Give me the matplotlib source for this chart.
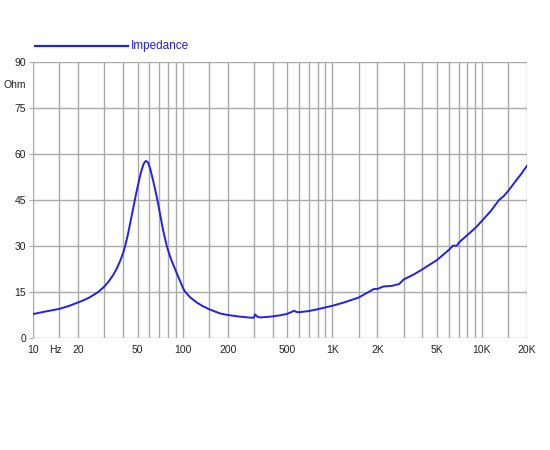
import matplotlib
matplotlib.use("Agg")
import matplotlib.pyplot as plt
import matplotlib.transforms as mtransforms

plt.rcParams['font.family'] = ['Liberation Sans', 'DejaVu Sans']

# impedance curve (Hz, Ohm)
freq = [10, 12, 15, 17.5, 20, 22, 24, 27.3, 30, 32, 34.4, 36.5, 38.2, 40,
        41.3, 43, 44.5, 46.5, 48.1, 50, 51.9, 53.5, 55, 56.6, 58, 59, 61,
        63.7, 65.5, 67.8, 71, 74, 78.3, 82.4, 86, 91.2, 100, 103, 112, 124,
        135, 150, 178, 200, 242, 290, 298, 305, 314, 329, 385, 450, 500, 530,
        556, 575, 600, 700, 800, 1000, 1200, 1500, 1900, 2000, 2200, 2500,
        2800, 3000, 3500, 4000, 5000, 6000, 6400, 6800, 7000, 8000, 9000,
        10000, 11500, 13000, 14000, 15000, 17000, 18500, 20000]
ohm = [7.8, 8.6, 9.5, 10.5, 11.6, 12.4, 13.3, 15.0, 16.8, 18.4, 20.6, 22.9,
       25.1, 27.7, 30.0, 33.6, 37.2, 41.8, 45.4, 49.3, 52.8, 55.2, 56.9,
       57.7, 57.5, 57.0, 54.8, 51.0, 48.4, 45.0, 39.8, 35.2, 30.0, 26.6,
       24.2, 21.2, 16.6, 15.3, 13.3, 11.6, 10.5, 9.4, 8.0, 7.5, 6.96, 6.6,
       6.6, 7.7, 7.0, 6.7, 6.96, 7.4, 7.9, 8.4, 8.9, 8.5, 8.4, 8.8, 9.4,
       10.5, 11.6, 13.2, 16.0, 16.0, 16.8, 17.0, 17.6, 19.1, 20.7, 22.4,
       25.4, 28.7, 30.1, 30.1, 31.1, 33.6, 35.8, 38.2, 41.5, 45.0, 46.3,
       48.0, 51.5, 53.8, 56.2]

grid_f = [10, 15, 20, 30, 40, 50, 60, 70, 80, 90, 100, 150, 200, 300, 400, 500,
          600, 700, 800, 900, 1000, 1500, 2000, 3000, 4000, 5000, 6000, 7000,
          8000, 9000, 10000, 15000, 20000]
xtick_f = [10, 20, 50, 100, 200, 500, 1000, 2000, 5000, 10000, 20000]
xtick_lbl = ['10', '20', '50', '100', '200', '500', '1K', '2K', '5K', '10K', '20K']
ytick_v = [0, 15, 30, 45, 60, 75, 90]

line_col = '#2020f0'
grid_col = '#aaaaaa'
text_col = '#222222'

fig = plt.figure(figsize=(5.5, 4.5), dpi=100)
ax = fig.add_axes([33/550, 1 - 338/450, 494/550, 276/450])

ax.set_xscale('log')
ax.set_xlim(10, 20000)
ax.set_ylim(0, 90)

# grid
for f in grid_f:
    ax.axvline(f, color=grid_col, lw=1, zorder=1)
for v in ytick_v:
    ax.axhline(v, color=grid_col, lw=1, zorder=1)

ax.plot(freq, ohm, color=line_col, lw=1.4, zorder=3, solid_joinstyle='round')

for s in ax.spines.values():
    s.set_visible(False)

ax.set_xticks(xtick_f)
ax.set_xticklabels(xtick_lbl)
ax.xaxis.set_minor_locator(matplotlib.ticker.NullLocator())
ax.set_yticks(ytick_v)
ax.tick_params(axis='both', labelsize=7.5, colors=text_col, length=3,
               color=grid_col, pad=2)
ax.tick_params(axis='x', length=0, pad=5)

# "Hz" sits on the tick label row, just left of the 15 Hz line
hz_trans = mtransforms.blended_transform_factory(ax.transData, ax.transAxes) + \
    mtransforms.ScaledTranslation(0, -5/72, fig.dpi_scale_trans)
ax.text(14.2, 0, 'Hz', transform=hz_trans, ha='center', va='top',
        fontsize=7.5, color=text_col)
ax.text(-0.015, 82.5, 'Ohm',
        transform=mtransforms.blended_transform_factory(ax.transAxes, ax.transData),
        ha='right', va='center', fontsize=7.5, color=text_col)

# legend
fig.add_artist(plt.Line2D([35/550, 128/550], [1 - 46/450, 1 - 46/450],
                          color=line_col, lw=1.6, transform=fig.transFigure))
fig.text(131/550, 1 - 46/450, 'Impedance', color=line_col, fontsize=8.5,
         ha='left', va='center')

fig.savefig('out.png', dpi=100)
